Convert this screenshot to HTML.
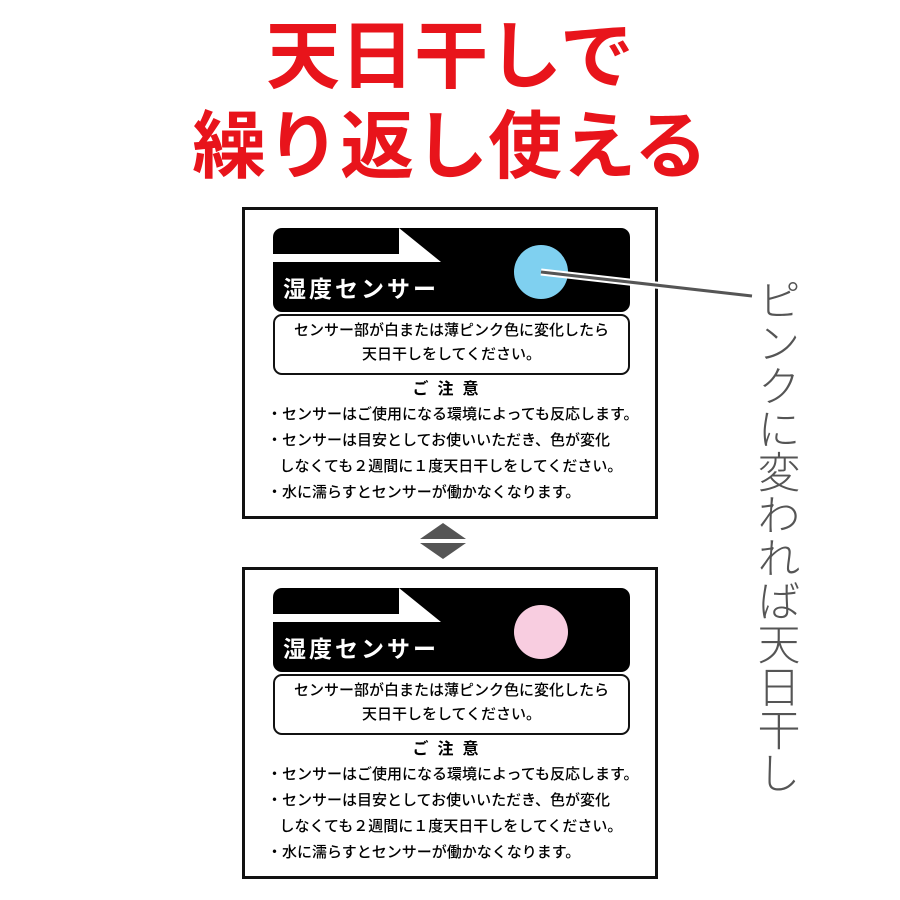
<!DOCTYPE html>
<html><head><meta charset="utf-8"><style>
body{margin:0;width:900px;height:900px;background:#fff;position:relative;overflow:hidden;font-family:"Liberation Sans","Noto Sans CJK JP",sans-serif}
.t{position:absolute;left:0;width:900px;text-align:center;color:#e8141b;font-weight:bold;font-size:74px;line-height:1}
.box{position:absolute;left:242px;width:410px;height:306px;border:3px solid #111}
.band{position:absolute;left:28px;top:18px;width:357px;height:84px;background:#000;border-radius:9px}
.lbl{position:absolute;left:10px;top:42px;color:#fff;font-size:23px;font-weight:bold;letter-spacing:3px}
.msg{position:absolute;left:28px;top:104px;width:353px;height:54px;border:2px solid #111;border-radius:9px;text-align:center;font-size:15px;font-weight:500;line-height:24px;padding-top:3px;box-sizing:content-box}
.ch{position:absolute;left:0;top:165px;width:410px;text-align:center;font-weight:bold;font-size:16px;letter-spacing:9px}
.li{position:absolute;left:22px;font-size:15px;font-weight:500;white-space:nowrap}
.v{position:absolute;left:753px;top:278px;writing-mode:vertical-rl;font-size:43px;color:#555;font-weight:300;line-height:1}
</style></head><body>
<div class="t" style="top:20px">天日干しで</div>
<div class="t" style="top:110px">繰り返し使える</div>

<div class="box" style="top:207px">
<div class="band"><svg width="357" height="84" style="position:absolute;left:0;top:0"><polygon points="0,26 126,26 126,0 168,34 0,34" fill="#fff"/><circle cx="268" cy="44" r="27" fill="#7fd0f0"/></svg><div class="lbl">湿度センサー</div></div>
<div class="msg">センサー部が白または薄ピンク色に変化したら<br>天日干しをしてください。</div>
<div class="ch">ご注意</div>
<div class="li" style="top:193px">・センサーはご使用になる環境によっても反応します。</div>
<div class="li" style="top:219px">・センサーは目安としてお使いいただき、色が変化</div>
<div class="li" style="top:245px">&nbsp;&nbsp;&nbsp;しなくても２週間に１度天日干しをしてください。</div>
<div class="li" style="top:271px">・水に濡らすとセンサーが働かなくなります。</div>
</div>

<div class="box" style="top:567px">
<div class="band"><svg width="357" height="84" style="position:absolute;left:0;top:0"><polygon points="0,26 126,26 126,0 168,34 0,34" fill="#fff"/><circle cx="268" cy="44" r="27" fill="#f8cde0"/></svg><div class="lbl">湿度センサー</div></div>
<div class="msg">センサー部が白または薄ピンク色に変化したら<br>天日干しをしてください。</div>
<div class="ch">ご注意</div>
<div class="li" style="top:193px">・センサーはご使用になる環境によっても反応します。</div>
<div class="li" style="top:219px">・センサーは目安としてお使いいただき、色が変化</div>
<div class="li" style="top:245px">&nbsp;&nbsp;&nbsp;しなくても２週間に１度天日干しをしてください。</div>
<div class="li" style="top:271px">・水に濡らすとセンサーが働かなくなります。</div>
</div>

<svg width="900" height="900" style="position:absolute;left:0;top:0">
<line x1="541" y1="272" x2="752" y2="296" stroke="#fff" stroke-width="7"/>
<line x1="541" y1="272" x2="752" y2="296" stroke="#555" stroke-width="3"/>
<polygon points="443,523 466,539 420,539" fill="#555"/>
<polygon points="420,543 466,543 443,559" fill="#555"/>
</svg>
<div class="v">ピンクに変われば天日干し</div>
</body></html>
